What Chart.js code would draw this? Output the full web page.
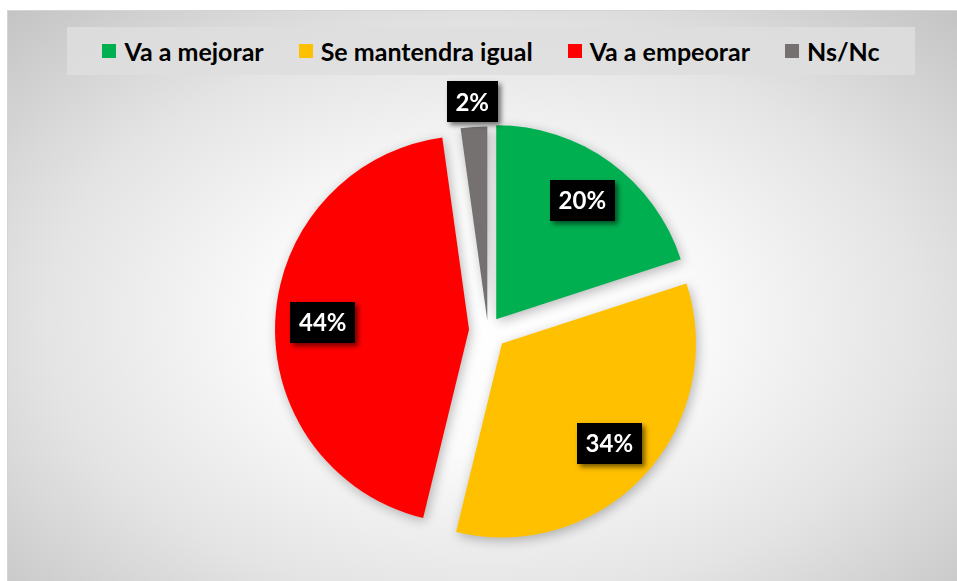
<!DOCTYPE html>
<html>
<head>
<meta charset="utf-8">
<script src="https://cdn.jsdelivr.net/npm/chart.js@4/dist/chart.umd.min.js"></script>
<style>
  html, body { margin: 0; padding: 0; background: #ffffff; }
  #wrap { position: relative; width: 957px; height: 581px; overflow: hidden; }
  #panel {
    position: absolute; left: 7px; top: 10px; width: 950px; height: 571px;
    border-top: 1px solid #d4d4d4; border-left: 1px solid #d4d4d4;
    background: radial-gradient(ellipse farthest-corner at 50% 54%, #ffffff 0%, #fbfbfb 30%, #e4e4e4 65%, #c4c4c4 100%);
  }
  #legend {
    position: absolute; left: 67px; top: 27px; width: 848px; height: 48px;
    background: rgba(222,222,222,0.85);
    display: flex; align-items: center; justify-content: center; gap: 35px;
    font-family: Lato, "Open Sans", sans-serif; font-weight: bold; font-size: 25px; color: #000;
  }
  .item { display: flex; align-items: center; white-space: nowrap; }
  .sw { width: 14px; height: 14px; margin-right: 8px; display: inline-block; }
  canvas { position: absolute; left: 0; top: 0; }
</style>
</head>
<body>
<div id="wrap">
  <div id="panel"></div>
  <div id="legend"></div>
  <canvas id="c" width="957" height="581"></canvas>
</div>
<script>
const categories = ["Va a mejorar", "Se mantendra igual", "Va a empeorar", "Ns/Nc"];
const values = [20, 33.8, 44, 2.2];
const valueLabels = ["20%", "34%", "44%", "2%"];
const colors = ["#00b050", "#ffc000", "#ff0000", "#767171"];
const explode = [14, 19, 19, 10];

// HTML legend
const leg = document.getElementById('legend');
categories.forEach((c, i) => {
  const it = document.createElement('div');
  it.className = 'item';
  const sw = document.createElement('span');
  sw.className = 'sw';
  sw.style.background = colors[i];
  it.appendChild(sw);
  it.appendChild(document.createTextNode(c));
  leg.appendChild(it);
});

// Draw exploded slices from the library's arc geometry (equal radius for all slices)
const explodePlugin = {
  id: 'explodedSlices',
  beforeDatasetDraw(chart, args) {
    const ctx = chart.ctx;
    const meta = args.meta;
    ctx.save();
    ctx.shadowColor = 'rgba(0,0,0,0.28)';
    ctx.shadowBlur = 12;
    ctx.shadowOffsetX = 2;
    ctx.shadowOffsetY = 3;
    meta.data.forEach((arc, i) => {
      const p = arc.getProps(['x', 'y', 'startAngle', 'endAngle', 'outerRadius']);
      const mid = (p.startAngle + p.endAngle) / 2;
      const ox = p.x + Math.cos(mid) * explode[i];
      const oy = p.y + Math.sin(mid) * explode[i];
      ctx.beginPath();
      ctx.moveTo(ox, oy);
      ctx.arc(ox, oy, p.outerRadius, p.startAngle, p.endAngle);
      ctx.closePath();
      ctx.fillStyle = arc.options.backgroundColor;
      ctx.fill();
    });
    ctx.restore();
    return false;
  }
};

const labelPlugin = {
  id: 'boxLabels',
  afterDraw(chart) {
    const ctx = chart.ctx;
    const meta = chart.getDatasetMeta(0);
    meta.data.forEach((arc, i) => {
      const p = arc.getProps(['x', 'y', 'startAngle', 'endAngle', 'outerRadius']);
      const mid = (p.startAngle + p.endAngle) / 2;
      const frac = values[i] < 5 ? 1.13 : 0.755;
      const d = explode[i] + p.outerRadius * frac;
      const cx = p.x + Math.cos(mid) * d;
      const cy = p.y + Math.sin(mid) * d;
      const txt = valueLabels[i];
      ctx.save();
      ctx.font = 'bold 24px Lato, "Open Sans", sans-serif';
      const w = ctx.measureText(txt).width + 17;
      const h = 41;
      ctx.shadowColor = 'rgba(0,0,0,0.55)';
      ctx.shadowBlur = 5;
      ctx.shadowOffsetX = 3;
      ctx.shadowOffsetY = 3;
      ctx.fillStyle = '#000000';
      ctx.fillRect(Math.round(cx - w / 2), Math.round(cy - h / 2), Math.round(w), h);
      ctx.shadowColor = 'transparent';
      ctx.fillStyle = '#ffffff';
      ctx.textAlign = 'center';
      ctx.textBaseline = 'middle';
      ctx.fillText(txt, cx, cy + 1);
      ctx.restore();
    });
  }
};

new Chart(document.getElementById('c'), {
  type: 'pie',
  data: {
    labels: categories,
    datasets: [{
      data: values,
      backgroundColor: colors,
      borderWidth: 0,
      hoverOffset: 0,
      radius: 194
    }]
  },
  options: {
    responsive: false,
    animation: false,
    layout: { padding: { left: 19, right: 0, top: 80, bottom: 0 } },
    plugins: {
      legend: { display: false },
      tooltip: { enabled: false }
    }
  },
  plugins: [explodePlugin, labelPlugin]
});
</script>
</body>
</html>
